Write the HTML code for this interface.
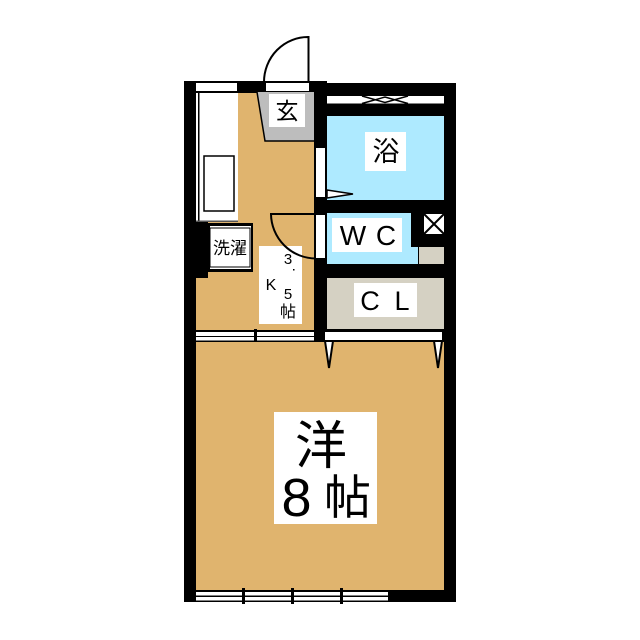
<!DOCTYPE html>
<html>
<head>
<meta charset="utf-8">
<style>
html,body{margin:0;padding:0;background:#fff;width:640px;height:640px;overflow:hidden}
svg{display:block}
text{font-family:"Liberation Sans","Noto Sans CJK JP",sans-serif;fill:#000;text-anchor:middle}
</style>
</head>
<body>
<svg width="640" height="640" viewBox="0 0 640 640" xmlns="http://www.w3.org/2000/svg">
<rect width="640" height="640" fill="#fff"/>
<!-- entry door -->
<path d="M264 82A44 45 0 0 1 308.500 37V82" fill="#fff" stroke="#000" stroke-width="2"/>
<!-- outer black -->
<rect x="184" y="81" width="143" height="521" fill="#000"/>
<rect x="327" y="83" width="129" height="519" fill="#000"/>
<!-- kitchen tan -->
<rect x="238" y="93" width="76" height="237" fill="#e0b46e"/>
<rect x="196" y="222" width="118" height="108" fill="#e0b46e"/>
<!-- counter -->
<rect x="196" y="93" width="42" height="129" fill="#fff"/>
<rect x="198" y="93" width="1.500" height="129" fill="#000"/>
<rect x="196" y="220.500" width="42" height="1.500" fill="#555"/>
<rect x="204" y="156" width="30" height="55" fill="#fff" stroke="#000" stroke-width="1.500"/>
<!-- top windows -->
<rect x="196" y="83" width="41" height="8" fill="#fff"/>
<rect x="266" y="83" width="43" height="8" fill="#fff"/>
<!-- genkan -->
<polygon points="257,92 314,92 314,141 265,141" fill="#bdbdbd"/>
<polyline points="257,92 265,141 314,141" fill="none" stroke="#000" stroke-width="1.500"/>
<rect x="269" y="94" width="36" height="33" fill="#fff"/>
<text x="287" y="119" font-size="23">玄</text>
<!-- pillar + washer -->
<rect x="196" y="222" width="12" height="56" fill="#000"/>
<rect x="208" y="223" width="45" height="49" fill="#000"/>
<rect x="210" y="226" width="41" height="43" fill="#fff"/>
<rect x="210" y="228" width="40" height="39" fill="#fff" stroke="#000" stroke-width="1"/>
<text x="230" y="254" font-size="17">洗濯</text>
<!-- 3.5K label -->
<rect x="259" y="246" width="43" height="78" fill="#fff"/>
<text x="288" y="264" font-size="15">3</text>
<rect x="293" y="269" width="1.500" height="1.500" fill="#000"/>
<text x="271" y="290" font-size="16">K</text>
<text x="288" y="299" font-size="15">5</text>
<text x="288" y="317" font-size="16">帖</text>
<!-- kitchen door -->
<path d="M270 214H316M271 214A45 45 0 0 0 316 258.500" fill="none" stroke="#000" stroke-width="2"/>
<!-- bath window -->
<rect x="327" y="96" width="117" height="7.500" fill="#fff"/>
<path d="M362 103.500L385 97L408 103.500M362 96L385 102.500L408 96" fill="none" stroke="#000" stroke-width="1.500"/>
<!-- bath -->
<rect x="327" y="116" width="117" height="84" fill="#aeeaff"/>
<rect x="365" y="132" width="41" height="39" fill="#fff"/>
<text x="386" y="161" font-size="27">浴</text>
<rect x="316" y="148" width="9" height="49" fill="#fff"/>
<polygon points="327,190 353,194 327,198" fill="#fff" stroke="#000" stroke-width="1.500"/>
<!-- WC -->
<rect x="327" y="213" width="84" height="51" fill="#aeeaff"/>
<rect x="411" y="247" width="7" height="17" fill="#aeeaff"/>
<rect x="332" y="218" width="70" height="34" fill="#fff"/>
<text x="353" y="245" font-size="28">W</text>
<text x="386" y="245" font-size="28">C</text>
<rect x="316" y="215" width="9" height="43" fill="#fff"/>
<rect x="419" y="247" width="25" height="17" fill="#d5d1c3"/>
<!-- shaft -->
<rect x="424" y="214" width="20" height="20" fill="#fff"/>
<path d="M424 214L444 234M444 214L424 234" stroke="#000" stroke-width="2"/>
<!-- CL -->
<rect x="327" y="278" width="117" height="51" fill="#d5d1c3"/>
<rect x="354" y="283" width="63" height="34" fill="#fff"/>
<text x="370" y="310" font-size="27">C</text>
<text x="402" y="310" font-size="27">L</text>
<!-- kitchen/room sliding -->
<rect x="196" y="332" width="118" height="4" fill="#fff"/>
<rect x="196" y="337" width="118" height="3.500" fill="#fff"/>
<rect x="254" y="329" width="3" height="14" fill="#000"/>
<!-- room -->
<rect x="196" y="342" width="248" height="248" fill="#e0b46e"/>
<rect x="325" y="332" width="117" height="8" fill="#fff"/>
<polygon points="325,341 333,341 329,368" fill="#fff" stroke="#000" stroke-width="2"/>
<polygon points="434,341 442,341 438,368" fill="#fff" stroke="#000" stroke-width="2"/>
<rect x="274" y="412" width="103" height="112" fill="#fff"/>
<text x="321" y="464" font-size="52">洋</text>
<text x="296.500" y="516" font-size="54">8</text>
<text x="347.500" y="514" font-size="47">帖</text>
<!-- bottom window -->
<rect x="196" y="592" width="192" height="3.500" fill="#fff"/>
<rect x="196" y="597" width="192" height="3.500" fill="#fff"/>
<rect x="242" y="588" width="3" height="16" fill="#000"/>
<rect x="291" y="588" width="3" height="16" fill="#000"/>
<rect x="340" y="588" width="3" height="16" fill="#000"/>
</svg>
</body>
</html>
